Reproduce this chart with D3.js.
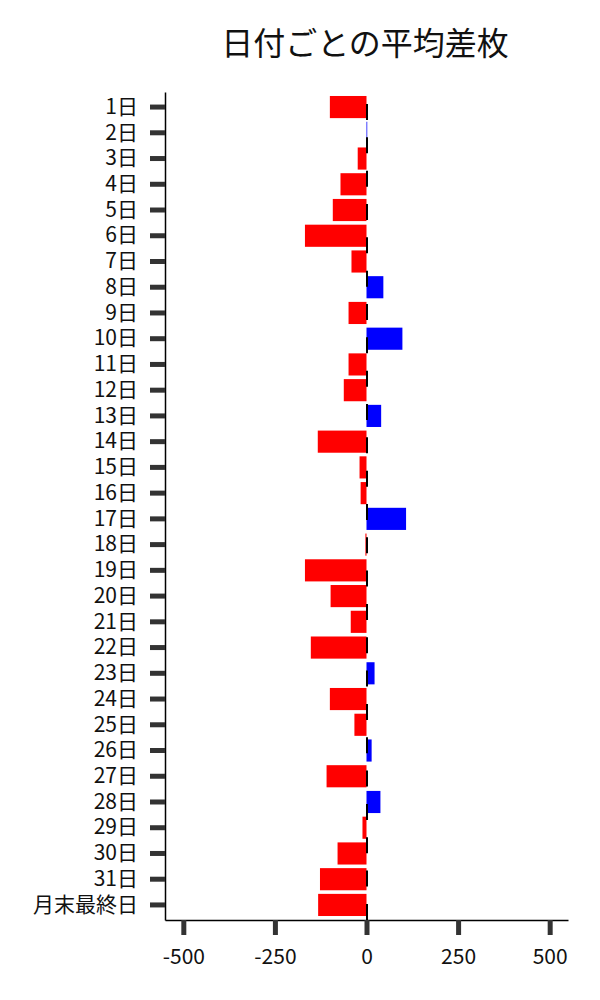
<!DOCTYPE html>
<html>
<head>
<meta charset="utf-8">
<script src="https://cdn.jsdelivr.net/npm/d3@7"></script>
<style>
  body { margin: 0; background: #fff; }
  svg { font-family: "Noto Sans CJK JP", "Noto Sans", sans-serif; }
</style>
</head>
<body>
<div id="chart"></div>
<script>
// data
const days = ['1日', '2日', '3日', '4日', '5日', '6日', '7日', '8日', '9日', '10日',
  '11日', '12日', '13日', '14日', '15日', '16日', '17日', '18日', '19日', '20日',
  '21日', '22日', '23日', '24日', '25日', '26日', '27日', '28日', '29日', '30日',
  '31日', '月末最終日'];
const avgDiff = [-100, 2, -24, -71, -92, -168, -41, 46, -49, 98,
  -49, -62, 40, -133, -19, -16, 108, -3, -168, -98,
  -43, -152, 22, -100, -33, 14, -109, 38, -11, -79,
  -127, -132];
const xTicks = [-500, -250, 0, 250, 500];
const title = '日付ごとの平均差枚';

const data = days.map((day, i) => ({ day, value: avgDiff[i] }));

const width = 600;
const height = 1000;

const $svg = d3.select('#chart').append('svg')
  .attr('width', width)
  .attr('height', height);

// scales
const x = d3.scaleLinear()
  .domain([-550, 550])
  .range([165, 568]);

const y = d3.scaleBand()
  .domain(days)
  .range([92, 920])
  .paddingInner(0.14)
  .paddingOuter(0.155);

// title
$svg.append('text')
  .attr('x', 365)
  .attr('y', 55)
  .attr('text-anchor', 'middle')
  .attr('font-size', 32)
  .attr('fill', '#111')
  .text(title);

// bars
$svg.append('g')
  .selectAll('rect')
  .data(data)
  .join('rect')
  .attr('x', d => x(Math.min(0, d.value)))
  .attr('y', d => y(d.day))
  .attr('width', d => Math.abs(x(d.value) - x(0)))
  .attr('height', y.bandwidth())
  .attr('fill', d => d.value < 0 ? '#ff0000' : '#0000ff');

// zero line
$svg.append('line')
  .attr('x1', x(0) + 0.5)
  .attr('x2', x(0) + 0.5)
  .attr('y1', 92)
  .attr('y2', 920)
  .attr('stroke', '#000')
  .attr('stroke-width', 2)
  .attr('stroke-dasharray', '16, 17.33')
  .attr('stroke-dashoffset', 21.33);

// axes
const yAxis = d3.axisLeft(y)
  .tickSize(15)
  .tickSizeOuter(0)
  .tickPadding(12);

const xAxis = d3.axisBottom(x)
  .tickValues(xTicks)
  .tickFormat(d => String(d))
  .tickSize(15)
  .tickSizeOuter(0)
  .tickPadding(14);

function styleAxis(g) {
  g.attr('font-family', null).attr('font-size', 21);
  g.select('.domain').attr('stroke', '#000').attr('stroke-width', 1.5);
  g.selectAll('.tick line').attr('stroke', '#333').attr('stroke-width', 5);
  g.selectAll('.tick text').attr('fill', '#111');
}

$svg.append('g')
  .attr('class', 'axis y')
  .attr('transform', `translate(${x.range()[0]}, 0)`)
  .call(yAxis)
  .call(styleAxis);

$svg.append('g')
  .attr('class', 'axis x')
  .attr('transform', 'translate(0, 920)')
  .call(xAxis)
  .call(styleAxis);
</script>
</body>
</html>
